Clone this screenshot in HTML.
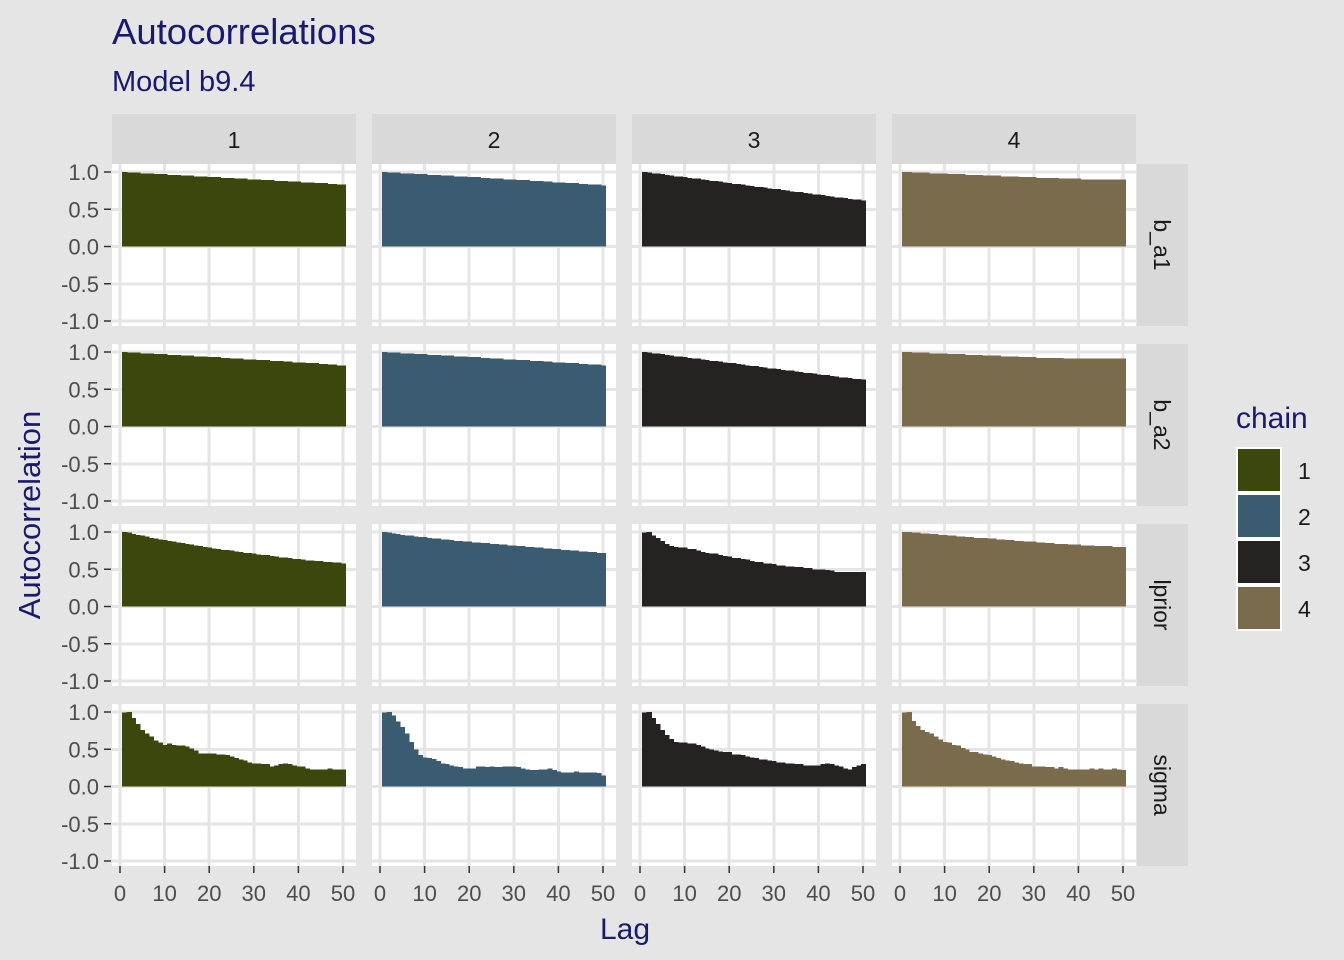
<!DOCTYPE html>
<html><head><meta charset="utf-8"><style>body{margin:0;background:#e5e5e5}svg{display:block;font-family:"Liberation Sans",sans-serif}</style></head>
<body>
<svg id="c" width="1344" height="960" xmlns="http://www.w3.org/2000/svg">
<rect width="1344" height="960" fill="#e5e5e5"/>
<text x="112" y="44" font-size="36.5" fill="#191970">Autocorrelations</text>
<text x="112" y="91" font-size="29" fill="#191970">Model b9.4</text>
<text transform="translate(40,515) rotate(-90)" text-anchor="middle" font-size="31" fill="#191970">Autocorrelation</text>
<text x="625" y="939" text-anchor="middle" font-size="30" fill="#191970">Lag</text>
<text x="1236" y="428" font-size="30" fill="#191970">chain</text>
<g id="g"></g>
</svg>
<script>
const chains=["1","2","3","4"];
const params=["b_a1","b_a2","lprior","sigma"];
const colors=["#3c470d","#3b5b71","#252221","#7a6b4c"];
const yTicks=[1.0,0.5,0.0,-0.5,-1.0];
const yTickLabels=["1.0","0.5","0.0","-0.5","-1.0"];
const xTicks=[0,10,20,30,40,50];
const b_a1_1=[1.00,.99,.99,.99,.98,.98,.98,.97,.97,.97,.96,.96,.96,.95,.95,.95,.94,.94,.94,.93,.93,.93,.92,.92,.92,.91,.91,.91,.90,.90,.90,.89,.89,.89,.88,.88,.88,.87,.87,.87,.86,.86,.86,.85,.85,.85,.84,.84,.83,.83];
const b_a1_2=[1.00,.99,.99,.99,.98,.98,.98,.97,.97,.97,.96,.96,.96,.95,.95,.95,.94,.94,.94,.93,.93,.93,.92,.92,.91,.91,.91,.90,.90,.90,.89,.89,.89,.88,.88,.88,.87,.87,.86,.86,.86,.85,.85,.85,.84,.84,.83,.83,.83,.82];
const b_a1_3=[1.00,.99,.98,.98,.97,.96,.95,.94,.94,.93,.92,.91,.91,.90,.89,.88,.88,.87,.86,.85,.84,.84,.83,.82,.81,.80,.80,.79,.78,.77,.77,.76,.75,.74,.73,.73,.72,.71,.70,.70,.69,.68,.67,.66,.66,.65,.64,.63,.63,.62];
const b_a1_4=[1.00,1.00,.99,.99,.99,.99,.98,.98,.98,.98,.97,.97,.97,.97,.96,.96,.96,.96,.95,.95,.95,.95,.94,.94,.94,.94,.93,.93,.93,.93,.92,.92,.92,.92,.92,.91,.91,.91,.91,.91,.90,.90,.90,.90,.90,.90,.90,.90,.90,.90];
const b_a2_1=[1.00,.99,.99,.99,.98,.98,.98,.97,.97,.97,.96,.96,.96,.95,.95,.95,.94,.94,.94,.93,.93,.93,.92,.92,.91,.91,.91,.90,.90,.90,.89,.89,.89,.88,.88,.88,.87,.87,.86,.86,.86,.85,.85,.85,.84,.84,.83,.83,.82,.82];
const b_a2_2=[1.00,.99,.99,.99,.98,.98,.98,.97,.97,.97,.96,.96,.96,.95,.95,.95,.94,.94,.94,.93,.93,.93,.92,.92,.91,.91,.91,.90,.90,.90,.89,.89,.89,.88,.88,.88,.87,.87,.86,.86,.86,.85,.85,.85,.84,.84,.83,.83,.83,.82];
const b_a2_3=[1.00,.99,.98,.98,.97,.96,.95,.94,.94,.93,.92,.91,.91,.90,.89,.88,.88,.87,.86,.85,.85,.84,.83,.82,.81,.81,.80,.79,.78,.78,.77,.76,.75,.75,.74,.73,.72,.72,.71,.70,.69,.69,.68,.67,.66,.66,.65,.64,.64,.63];
const b_a2_4=[1.00,1.00,.99,.99,.99,.99,.98,.98,.98,.98,.97,.97,.97,.97,.96,.96,.96,.96,.95,.95,.95,.95,.94,.94,.94,.94,.93,.93,.93,.93,.92,.92,.92,.92,.92,.92,.91,.91,.91,.91,.91,.91,.91,.91,.91,.91,.91,.91,.91,.91];
const lprior_1=[1.00,.99,.97,.96,.95,.94,.92,.91,.90,.89,.88,.87,.86,.85,.84,.83,.82,.81,.80,.79,.78,.77,.76,.76,.75,.74,.73,.72,.72,.71,.70,.69,.69,.68,.67,.66,.66,.65,.64,.64,.63,.62,.62,.61,.61,.60,.60,.59,.59,.58];
const lprior_2=[1.00,.99,.98,.97,.96,.95,.95,.94,.93,.93,.92,.91,.91,.90,.90,.89,.88,.88,.87,.87,.86,.86,.85,.85,.84,.84,.83,.83,.82,.82,.81,.81,.80,.80,.79,.79,.78,.78,.77,.77,.76,.76,.75,.75,.74,.74,.73,.73,.72,.72];
const lprior_3=[.99,1.00,.95,.92,.88,.84,.81,.80,.79,.79,.77,.77,.75,.73,.72,.71,.71,.69,.68,.67,.65,.65,.64,.63,.61,.60,.60,.58,.58,.57,.55,.55,.54,.54,.53,.53,.52,.52,.50,.50,.50,.49,.48,.46,.46,.46,.46,.46,.46,.46];
const lprior_4=[1.00,1.00,.99,.99,.98,.98,.97,.97,.96,.96,.95,.95,.94,.94,.93,.93,.92,.92,.92,.91,.91,.90,.90,.89,.89,.88,.88,.87,.87,.87,.86,.86,.85,.85,.84,.84,.84,.83,.83,.83,.82,.82,.82,.81,.81,.81,.81,.80,.80,.80];
const sigma_1=[.99,1.00,.92,.84,.76,.71,.67,.62,.59,.56,.58,.56,.55,.55,.54,.51,.48,.44,.44,.44,.44,.43,.43,.42,.40,.38,.36,.35,.32,.31,.31,.30,.30,.27,.28,.30,.31,.30,.28,.27,.27,.24,.23,.23,.23,.23,.24,.23,.23,.23];
const sigma_2=[.99,1.00,.95,.87,.80,.71,.60,.50,.42,.39,.38,.37,.34,.31,.30,.28,.27,.26,.24,.24,.24,.27,.27,.26,.27,.26,.26,.27,.27,.27,.26,.24,.23,.22,.22,.23,.23,.24,.22,.20,.19,.19,.19,.20,.19,.19,.19,.19,.18,.15];
const sigma_3=[.99,1.00,.92,.84,.76,.69,.64,.60,.59,.59,.58,.58,.56,.54,.51,.50,.48,.47,.46,.46,.43,.43,.42,.40,.39,.38,.36,.36,.35,.34,.32,.32,.31,.31,.30,.30,.28,.28,.28,.28,.30,.31,.30,.28,.27,.24,.23,.26,.28,.30];
const sigma_4=[.99,1.00,.88,.81,.76,.73,.71,.67,.63,.60,.59,.56,.55,.52,.50,.46,.46,.44,.43,.42,.40,.38,.36,.35,.34,.32,.31,.30,.30,.27,.27,.27,.26,.26,.24,.26,.24,.23,.23,.23,.23,.23,.24,.23,.24,.23,.23,.24,.23,.22];
const series={b_a1:[b_a1_1,b_a1_2,b_a1_3,b_a1_4],b_a2:[b_a2_1,b_a2_2,b_a2_3,b_a2_4],lprior:[lprior_1,lprior_2,lprior_3,lprior_4],sigma:[sigma_1,sigma_2,sigma_3,sigma_4]};

const NS="http://www.w3.org/2000/svg";
const g=document.getElementById('g');
function mk(tag,attrs,parent){const e=document.createElementNS(NS,tag);for(const k in attrs)e.setAttribute(k,attrs[k]);(parent||g).appendChild(e);return e;}
const colLeft=[112,372,632,892], PW=244, rowTop=[164,344,524,704], PH=162;
function xs(c,l){return colLeft[c]+8+l*4.46;}
function ys(r,v){return rowTop[r]+8+(1-v)*74.5;}

chains.forEach((ch,c)=>{
  const s=mk('rect',{x:colLeft[c],y:114,width:PW,height:50,fill:'#d9d9d9'});
  
  
  const t=mk('text',{x:colLeft[c]+PW/2,y:148,'text-anchor':'middle','font-size':23,fill:'#1a1a1a'});t.textContent=ch;
  
  
});
params.forEach((p,r)=>{
  const s=mk('rect',{x:1137,y:rowTop[r],width:51,height:PH,fill:'#d9d9d9'});
  
  
  const cx=1154, cy=rowTop[r]+PH/2;
  const t=mk('text',{transform:`translate(${cx},${cy}) rotate(90)`,'text-anchor':'middle','font-size':23,fill:'#1a1a1a'});t.textContent=p;
  
  
});

params.forEach((p,r)=>{
  chains.forEach((ch,c)=>{
    const pg=mk('g',{'shape-rendering':'crispEdges'});
    
    
    mk('rect',{x:colLeft[c],y:rowTop[r],width:PW,height:PH,fill:'#ffffff'},pg);
    yTicks.forEach(v=>mk('line',{x1:colLeft[c],x2:colLeft[c]+PW,y1:ys(r,v),y2:ys(r,v),stroke:'#e5e5e5','stroke-width':3},pg));
    xTicks.forEach(l=>mk('line',{x1:xs(c,l),x2:xs(c,l),y1:rowTop[r],y2:rowTop[r]+PH,stroke:'#e5e5e5','stroke-width':3},pg));
    const vals=series[p][c];
    vals.forEach((v,i)=>{
      const lag=i+1;
      const x0=xs(c,lag-0.5), x1=xs(c,lag+0.5);
      const y0=ys(r,Math.max(v,0)), y1=ys(r,Math.min(v,0));
      const b=mk('rect',{x:x0,y:y0,width:x1-x0+0.6,height:y1-y0,fill:colors[c]},pg);
      
      
    });
  });
  yTicks.forEach((v,k)=>{
    mk('line',{x1:104,x2:111,y1:ys(r,v),y2:ys(r,v),stroke:'#333','stroke-width':1.5});
    const t=mk('text',{x:99,y:ys(r,v)+8,'text-anchor':'end','font-size':22,fill:'#4d4d4d'});t.textContent=yTickLabels[k];
    
    
  });
});
chains.forEach((ch,c)=>{
  xTicks.forEach(l=>{
    mk('line',{x1:xs(c,l),x2:xs(c,l),y1:866,y2:873,stroke:'#333','stroke-width':1.5});
    const t=mk('text',{x:xs(c,l),y:901,'text-anchor':'middle','font-size':22,fill:'#4d4d4d'});t.textContent=String(l);
    
    
  });
  const k=mk('rect',{x:1237,y:448+c*46,width:44,height:44,fill:colors[c],stroke:'#ffffff','stroke-width':2});
  
  
  const t=mk('text',{x:1298,y:479+c*46,'font-size':23,fill:'#1a1a1a'});t.textContent=ch;
  
  
});
</script>
</body></html>
